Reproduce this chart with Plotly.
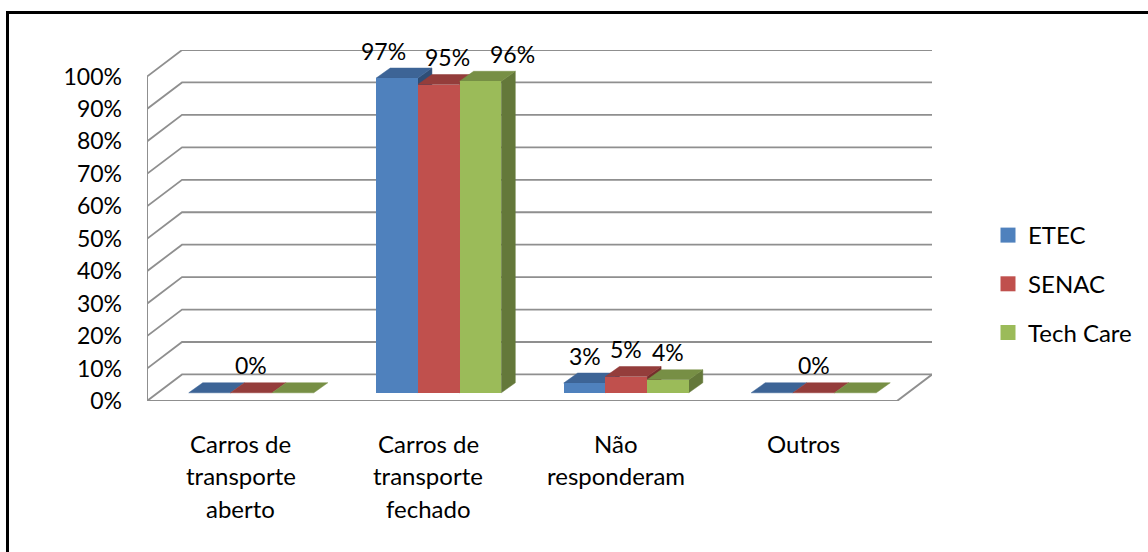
import plotly.graph_objects as go

categories = ["Carros de\ntransporte\naberto", "Carros de\ntransporte\nfechado", "Não\nresponderam", "Outros"]
series_names = ["ETEC", "SENAC", "Tech Care"]
etec = [0, 0.97, 0.03, 0]
senac = [0, 0.95, 0.05, 0]
tech_care = [0, 0.96, 0.04, 0]
y_ticks = [0, 0.1, 0.2, 0.3, 0.4, 0.5, 0.6, 0.7, 0.8, 0.9, 1.0]

series_values = [etec, senac, tech_care]
front_colors = ["#4f81bd", "#c0504d", "#9bbb59"]
top_colors = ["#3d6496", "#943d3b", "#778f45"]
side_colors = ["#2f4e76", "#742e2c", "#64783a"]

FONT = "Lato"
FS_TEXT = 24
FS_NUM = 23
GRID = "#8f8f8f"

# Plot geometry (pixels) used to convert the oblique depth into axis units
PX_CAT = 187.4
PX_FULL = 324.0
L, R, T, BOT = 147, 932, 50, 401
wall_dx = 35 / PX_CAT
wall_dy = 26.5 / PX_FULL
bar_base = 8.2 / PX_FULL
bar_shift = 10.5 / PX_CAT
bar_w = 41.67 / PX_CAT
bar_dx = 14 / PX_CAT
bar_dy = 10 / PX_FULL
label_dx = [[0, 0, 0], [-14, 8.5, 32], [0, 0, 0], [0, 0, 0]]
label_dy = 27.5


def paper_x(px):
    return (px - L) / (R - L)


def paper_y(py):
    return (BOT - py) / (BOT - T)


n = len(categories)
xmax = n + wall_dx
ymax = 1 + wall_dy

fig = go.Figure()

# Walls and floor
for t in y_ticks:
    fig.add_trace(go.Scatter(
        x=[0, wall_dx, xmax], y=[t, t + wall_dy, t + wall_dy], mode="lines",
        line=dict(color=GRID, width=1.8), showlegend=False, hoverinfo="skip"))
fig.add_trace(go.Scatter(
    x=[0, 0], y=[0, 1], mode="lines", line=dict(color=GRID, width=2),
    showlegend=False, hoverinfo="skip"))
fig.add_trace(go.Scatter(
    x=[0, n, xmax], y=[0, 0, wall_dy], mode="lines", line=dict(color=GRID, width=2),
    showlegend=False, hoverinfo="skip"))


def poly(xs, ys, color):
    fig.add_trace(go.Scatter(
        x=xs, y=ys, mode="lines", fill="toself", fillcolor=color,
        line=dict(color=color, width=0.5), showlegend=False, hoverinfo="skip"))


def bar_left(c, i):
    return c + 0.5 + bar_shift + (i - 1.5) * bar_w


# Oblique faces: side then top, series by series
for c in range(n):
    for i, vals in enumerate(series_values):
        x0 = bar_left(c, i)
        x1 = x0 + bar_w
        b = bar_base
        v = b + vals[c]
        if vals[c] > 0:
            poly([x1, x1 + bar_dx, x1 + bar_dx, x1, x1],
                 [b, b + bar_dy, v + bar_dy, v, b], side_colors[i])
        poly([x0, x1, x1 + bar_dx, x0 + bar_dx, x0],
             [v, v, v + bar_dy, v + bar_dy, v], top_colors[i])

# Front faces on an overlaid axis pair so that they cover the oblique faces
for i, vals in enumerate(series_values):
    fig.add_trace(go.Bar(
        x=[bar_left(c, i) + bar_w / 2 for c in range(n)], y=vals,
        base=[bar_base] * n, width=bar_w, marker=dict(color=front_colors[i], line=dict(width=0)),
        name=series_names[i], showlegend=False, xaxis="x2", yaxis="y2"))

# Legend entries
for i, name in enumerate(series_names):
    fig.add_trace(go.Scatter(
        x=[None], y=[None], mode="markers", name=name, legendgroup=name,
        marker=dict(symbol="square", size=15, color=front_colors[i])))

annotations = []
# Data labels
for c in range(n):
    for i, vals in enumerate(series_values):
        v = vals[c]
        if all(s[c] == 0 for s in series_values) and i != 1:
            continue
        annotations.append(dict(
            x=bar_left(c, i) + bar_w / 2, y=bar_base + v, xref="x", yref="y",
            text=f"{round(v * 100)}%", showarrow=False, xanchor="center", yanchor="middle",
            xshift=label_dx[c][i], yshift=label_dy, font=dict(family=FONT, size=FS_NUM, color="#000")))
# Category labels (wide line spacing as in the reference)
for c, cat in enumerate(categories):
    for k, line in enumerate(cat.split("\n")):
        annotations.append(dict(
            x=c + 0.5, y=0, xref="x", yref="y", text=line, showarrow=False,
            xanchor="center", yanchor="middle", yshift=-(42 + 32.5 * k),
            font=dict(family=FONT, size=FS_TEXT, color="#000")))

axis_x = dict(range=[0, xmax], visible=False, fixedrange=True)
fig.update_layout(
    width=1148, height=552, autosize=False,
    paper_bgcolor="white", plot_bgcolor="white",
    margin=dict(l=L, r=1148 - R, t=T, b=552 - BOT, pad=0, autoexpand=False),
    barmode="overlay", bargap=0,
    font=dict(family=FONT, size=FS_TEXT, color="#000"),
    xaxis=axis_x,
    yaxis=dict(range=[0, ymax], tickvals=y_ticks, tickformat=".0%", showgrid=False,
               zeroline=False, showline=False, ticks="", ticklabelstandoff=24, fixedrange=True,
               tickfont=dict(family=FONT, size=FS_NUM, color="#000")),
    xaxis2=dict(axis_x, overlaying="x"),
    yaxis2=dict(range=[0, ymax], overlaying="y", visible=False, fixedrange=True),
    legend=dict(x=paper_x(988), y=paper_y(213), xanchor="left", yanchor="top",
                traceorder="grouped", tracegroupgap=14.5, itemclick=False, itemdoubleclick=False,
                font=dict(family=FONT, size=FS_TEXT, color="#000"), bgcolor="rgba(0,0,0,0)"),
    annotations=annotations,
    shapes=[
        dict(type="line", xref="paper", yref="paper", x0=paper_x(7.5), x1=paper_x(7.5),
             y0=paper_y(11), y1=paper_y(552), line=dict(color="#000", width=3)),
        dict(type="line", xref="paper", yref="paper", x0=paper_x(6), x1=paper_x(1148),
             y0=paper_y(12.5), y1=paper_y(12.5), line=dict(color="#000", width=3)),
    ],
)

fig.write_html("out.html", config=dict(displayModeBar=False),
               post_script="document.body.style.margin='0';")
